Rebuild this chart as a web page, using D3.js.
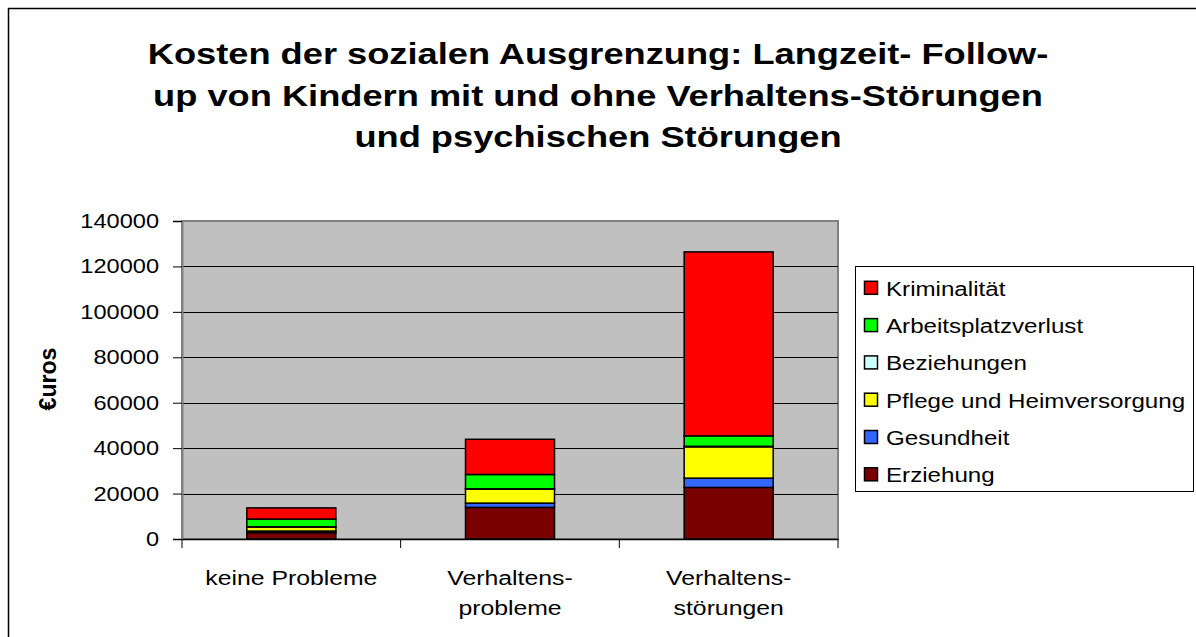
<!DOCTYPE html>
<html>
<head>
<meta charset="utf-8">
<script src="https://cdn.jsdelivr.net/npm/d3@7"></script>
<style>
  html, body { margin: 0; padding: 0; background: #fff; }
  svg { display: block; }
</style>
</head>
<body>
<div id="chart"></div>
<script>
// values (euros)
const categories = ['keine Probleme', 'Verhaltensprobleme', 'Verhaltensstörungen'];
const categoryLines = [['keine Probleme'], ['Verhaltens-', 'probleme'], ['Verhaltens-', 'störungen']];
const erziehung = [2800, 13900, 22700];
const gesundheit = [700, 1900, 4100];
const pflege = [1800, 6200, 13800];
const beziehungen = [100, 100, 200];
const arbeitsplatz = [3400, 6300, 4600];
const kriminalitaet = [4900, 15500, 81000];
const seriesNames = ['Erziehung', 'Gesundheit', 'Pflege und Heimversorgung', 'Beziehungen', 'Arbeitsplatzverlust', 'Kriminalität'];
const yTicks = [0, 20000, 40000, 60000, 80000, 100000, 120000, 140000];
const titleLines = [
  'Kosten der sozialen Ausgrenzung: Langzeit- Follow-',
  'up von Kindern mit und ohne Verhaltens-Störungen',
  'und psychischen Störungen'
];

const COLORS = ['#7a0000', '#3366ff', '#ffff00', '#ccffff', '#00ff00', '#ff0000'];
const FONT = 'Liberation Sans, Arial, sans-serif';
const W = 1196, H = 637;
const plot = { left: 182, right: 838, top: 221, bottom: 539 };

const seriesValues = [erziehung, gesundheit, pflege, beziehungen, arbeitsplatz, kriminalitaet];
const table = categories.map((c, i) => {
  const row = { cat: c };
  seriesNames.forEach((s, k) => { row[s] = seriesValues[k][i]; });
  return row;
});
const stacked = d3.stack().keys(seriesNames)(table);

const svg = d3.select('#chart').append('svg').attr('width', W).attr('height', H);

// outer frame
svg.append('rect')
  .attr('x', 8.5).attr('y', 8.5).attr('width', W + 10).attr('height', H + 10)
  .attr('fill', 'none').attr('stroke', '#000').attr('stroke-width', 1.5);

// stretched text helper (the original is horizontally widened)
function stretched(sel, x, y, sx) {
  return sel.attr('transform', `translate(${x},${y}) scale(${sx},1)`);
}

// title
titleLines.forEach((t, i) => {
  stretched(svg.append('text'), 598, 64 + i * 41.5, 1.25)
    .attr('text-anchor', 'middle')
    .style('font-family', FONT).style('font-weight', 'bold').style('font-size', '29px')
    .text(t);
});

const x = d3.scaleBand().domain(categories).range([plot.left, plot.right])
  .paddingInner(0.593).paddingOuter(0.2965);
const xEdge = d3.scaleBand().domain(categories).range([plot.left, plot.right]);
const y = d3.scaleLinear().domain([0, 140000]).range([plot.bottom, plot.top]);

// plot background
svg.append('rect')
  .attr('x', plot.left).attr('y', plot.top)
  .attr('width', plot.right - plot.left).attr('height', plot.bottom - plot.top)
  .attr('fill', '#c0c0c0').attr('stroke', '#808080').attr('stroke-width', 2);

// gridlines
svg.append('g').selectAll('line')
  .data(yTicks.filter((d) => d > 0 && d < 140000))
  .enter().append('line')
  .attr('x1', plot.left).attr('x2', plot.right)
  .attr('y1', (d) => Math.round(y(d)) + 0.5).attr('y2', (d) => Math.round(y(d)) + 0.5)
  .attr('stroke', '#000').attr('stroke-width', 1);

// bars
svg.append('g').selectAll('g')
  .data(stacked)
  .enter().append('g')
  .attr('fill', (d, i) => COLORS[i])
  .selectAll('rect')
  .data((d) => d)
  .enter().append('rect')
  .attr('x', (d) => x(d.data.cat))
  .attr('width', x.bandwidth())
  .attr('y', (d) => y(d[1]))
  .attr('height', (d) => y(d[0]) - y(d[1]))
  .attr('stroke', '#000').attr('stroke-width', 1.5);

// y axis
const yAxis = svg.append('g')
  .attr('transform', `translate(${plot.left},0)`)
  .call(d3.axisLeft(y).tickValues(yTicks).tickSize(9).tickPadding(14).tickFormat(d3.format('d')));
yAxis.select('.domain').attr('stroke', '#808080').attr('stroke-width', 2);
yAxis.selectAll('.tick line').attr('stroke', '#000');
yAxis.selectAll('.tick text').remove();
yTicks.forEach((t) => {
  stretched(svg.append('text'), 159, y(t) + 7, 1.21)
    .attr('text-anchor', 'end')
    .style('font-family', FONT).style('font-size', '19.5px')
    .text(t);
});

// x axis
const xAxis = svg.append('g')
  .attr('transform', `translate(0,${plot.bottom})`)
  .call(d3.axisBottom(xEdge).tickSize(0).tickFormat(''));
xAxis.select('.domain').attr('stroke', '#000').attr('stroke-width', 1.5);
xAxis.selectAll('.tick').remove();
const edges = categories.map((c) => xEdge(c)).concat([plot.right]);
svg.append('g').selectAll('line')
  .data(edges)
  .enter().append('line')
  .attr('x1', (d) => d).attr('x2', (d) => d)
  .attr('y1', plot.bottom).attr('y2', plot.bottom + 9)
  .attr('stroke', '#000');
categories.forEach((c, i) => {
  categoryLines[i].forEach((ln, j) => {
    stretched(svg.append('text'), xEdge(c) + xEdge.bandwidth() / 2, 585 + j * 29.5, 1.18)
      .attr('text-anchor', 'middle')
      .style('font-family', FONT).style('font-size', '21px')
      .text(ln);
  });
});

// y axis title
svg.append('text')
  .attr('transform', `translate(56,379) rotate(-90) scale(1.1,1.15)`)
  .attr('text-anchor', 'middle')
  .style('font-family', FONT).style('font-weight', 'bold').style('font-size', '21px')
  .text('€uros');

// legend
const legend = svg.append('g');
legend.append('rect')
  .attr('x', 855.5).attr('y', 266.5).attr('width', 338).attr('height', 225)
  .attr('fill', '#fff').attr('stroke', '#000').attr('stroke-width', 1);
const legendOrder = seriesNames.map((s, i) => i).reverse();
legendOrder.forEach((k, r) => {
  const cy = 288.3 + r * 37.3;
  legend.append('rect')
    .attr('x', 864.5).attr('y', cy - 7).attr('width', 13).attr('height', 13)
    .attr('fill', COLORS[k]).attr('stroke', '#000').attr('stroke-width', 1.5);
  stretched(legend.append('text'), 886, cy + 7.5, 1.15)
    .style('font-family', FONT).style('font-size', '21px')
    .text(seriesNames[k]);
});
</script>
</body>
</html>
